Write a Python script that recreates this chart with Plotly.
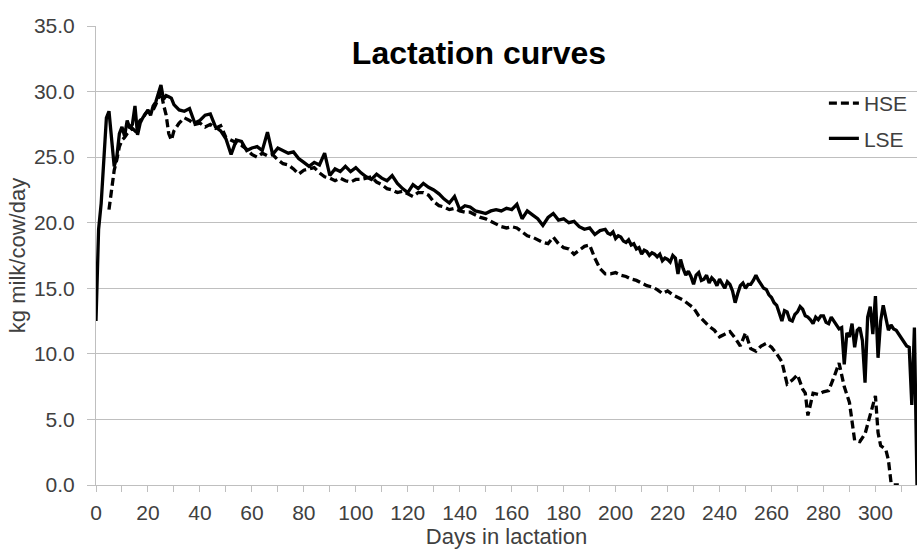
import plotly.graph_objects as go

# ---------------- data ----------------
lse_days = list(range(0, 31)) + list(range(32, 195, 2)) + list(range(196, 317))
lse_vals = [
    # 0 .. 30 daily
    12.5, 19.5, 21.5, 24.5, 28.0, 28.5, 26.5, 24.3, 25.0, 26.8,
    27.3, 26.6, 27.8, 27.2, 27.5, 28.9, 26.7, 27.6, 28.0, 28.3,
    28.6, 28.2, 28.9, 29.2, 29.9, 30.5, 29.4, 29.7, 29.6, 29.5,
    29.0,
    # 32 .. 194 step 2
    28.6, 28.5, 28.7, 27.6, 27.8, 28.2, 28.3, 27.3, 27.0, 26.4,
    25.2, 26.3, 26.2, 25.5, 25.7, 25.8, 25.5, 26.9, 25.2, 25.7,
    25.5, 25.3, 25.4, 24.9, 24.6, 24.3, 24.6, 24.4, 25.3, 23.6,
    24.1, 23.9, 24.3, 23.9, 24.2, 23.8, 23.5, 23.3, 23.7, 23.4,
    23.2, 23.6, 23.0, 22.6, 22.3, 22.9, 22.6, 23.0, 22.7, 22.5,
    22.2, 21.8, 21.5, 22.0, 21.0, 21.3, 21.2, 20.9, 20.8, 20.7,
    20.9, 21.0, 20.9, 21.1, 21.0, 21.4, 20.3, 20.9, 20.6, 20.3,
    19.8, 20.4, 20.7, 20.2, 20.3, 20.0, 20.1, 19.7, 19.5, 19.6,
    19.1, 19.4,
    # 196 .. 316 daily
    19.5, 19.2, 19.1, 19.3, 18.8, 19.0, 18.9, 18.6, 18.5, 18.7,
    18.3, 18.4, 18.0, 18.1, 17.6, 17.9, 17.8, 17.5, 17.7, 17.6,
    17.4, 17.6, 17.1, 17.3, 17.2, 17.0, 17.5, 17.3, 16.1, 17.2,
    16.5, 16.0, 16.3, 15.9, 15.3, 16.0, 16.2, 15.6, 15.7, 16.0,
    15.4, 15.8, 15.6, 15.2, 15.7, 15.4, 15.0, 15.5, 15.3, 14.8,
    13.9, 14.6, 15.2, 15.4, 15.0, 15.3, 15.3, 15.6, 16.0, 15.6,
    15.3, 15.0, 14.9, 14.5, 14.3, 13.9, 13.7, 13.0, 12.5, 13.3,
    13.2, 12.6, 12.5, 13.0, 13.2, 13.6, 13.4, 12.9, 12.8, 12.6,
    12.3, 12.8, 12.6, 12.9, 12.9, 12.4, 12.3, 12.8, 12.5,
    12.2, 11.9, 12.0, 9.2, 11.6, 11.3, 12.3, 10.5, 11.8, 12.0,
    11.0, 7.8, 12.8, 13.6, 11.5, 14.4, 9.7, 12.5, 13.7, 12.6,
    11.8, 12.2, 11.9, 11.8, 11.5, 11.3, 10.9, 10.6, 10.5, 6.1,
    12.0, 0.0,
]

hse_days = (list(range(5, 31)) + list(range(32, 273, 2)) +
            [273, 274, 276, 278, 280, 282, 284, 286, 288, 290, 292, 294, 296,
             298, 300, 301, 302, 304, 305, 306, 307, 309])
hse_vals = [
    # 5 .. 30 daily
    21.0, 22.5, 24.0, 24.8, 25.8, 26.3, 26.5, 26.8, 27.0, 27.2,
    27.0, 27.5, 27.8, 28.0, 28.3, 28.5, 28.6, 28.6, 29.0, 29.5,
    30.0, 29.0, 28.2, 26.8, 26.3, 27.0,
    # 32 .. 272 step 2
    27.6, 28.0, 27.8, 27.5, 27.6, 27.3, 27.5, 27.2, 27.4, 26.5,
    26.3, 26.1, 25.9, 25.6, 25.2, 25.0, 25.3, 25.1, 25.2, 24.8,
    24.5, 24.4, 24.1, 23.7, 24.0, 24.1, 24.2, 23.8, 23.5, 23.4,
    23.2, 23.4, 23.2, 23.1, 23.3, 23.3, 23.4, 23.5, 23.1, 22.9,
    22.6, 22.5, 22.3, 22.4, 22.2, 22.0, 22.3, 22.3, 22.1, 21.6,
    21.3, 21.2, 21.0, 21.1, 20.9, 20.8, 20.8, 20.6, 20.4, 20.3,
    20.1, 19.9, 19.7, 19.6, 19.7, 19.6, 19.3, 19.0, 18.9, 18.7,
    18.5, 18.4, 18.9, 18.4, 18.1, 18.0, 17.6, 17.9, 18.2, 18.3,
    17.3, 16.5, 16.1, 16.1, 16.2, 16.0, 15.9, 15.7, 15.6, 15.4,
    15.2, 15.1, 14.9, 14.6, 14.8, 14.5, 14.3, 14.1, 13.8, 13.5,
    12.9, 12.5, 12.1, 11.8, 11.3, 11.5, 11.7, 11.2, 10.6, 11.6,
    10.4, 10.2, 10.6, 10.8, 10.5, 10.0, 9.4, 7.7, 8.0, 8.4,
    7.3,
    # tail
    7.0, 5.3, 7.0, 6.9, 7.1, 7.2, 8.2, 9.3, 7.5, 6.3, 3.4, 3.3, 3.9,
    5.4, 6.8, 4.0, 3.0, 2.7, 1.9, 0.2, 0.0, 0.0,
]

assert len(lse_days) == len(lse_vals), (len(lse_days), len(lse_vals))
assert len(hse_days) == len(hse_vals), (len(hse_days), len(hse_vals))

y_ticks = [0, 5, 10, 15, 20, 25, 30, 35]

FONT = "Liberation Sans, Arial, sans-serif"
GRID = "#bfbfbf"
TXT = "#404040"

fig = go.Figure()
fig.add_trace(go.Scatter(
    x=hse_days, y=hse_vals, name="HSE", mode="lines", legendgroup="a",
    line=dict(color="black", width=3.3, dash="8px,4px"),
))
fig.add_trace(go.Scatter(
    x=lse_days, y=lse_vals, name="LSE", mode="lines", legendgroup="b",
    line=dict(color="black", width=3.3),
))

fig.update_layout(
    width=923, height=556,
    margin=dict(l=96, r=6, t=26, b=71),
    paper_bgcolor="white", plot_bgcolor="white",
    font=dict(family=FONT, size=21, color=TXT),
    title=dict(text="<b>Lactation curves</b>", font=dict(size=32, color="black", family=FONT),
               xref="container", yref="container", x=479/923, y=1-53/556,
               xanchor="center", yanchor="middle"),
    legend=dict(x=0.995, y=0.876, xanchor="right", yanchor="top",
                bgcolor="rgba(0,0,0,0)", font=dict(size=21, color=TXT),
                traceorder="grouped", tracegroupgap=5),
    showlegend=True,
)
fig.update_xaxes(
    range=[0, 316], tick0=0, dtick=20, showgrid=False, zeroline=False,
    showline=True, linecolor=GRID, linewidth=1,
    ticks="outside", ticklen=6, tickcolor=GRID, tickwidth=1,
    minor=dict(dtick=10, ticks="outside", ticklen=6, tickcolor=GRID, showgrid=False),
    title=dict(text="Days in lactation", font=dict(size=22, color=TXT), standoff=4),
    ticklabelstandoff=3,
)
fig.update_yaxes(
    range=[0, 35], tickvals=y_ticks, tickformat=".1f",
    showgrid=True, gridcolor=GRID, gridwidth=1, zeroline=False,
    showline=True, linecolor=GRID, linewidth=1,
    ticks="outside", ticklen=8, tickcolor=GRID, tickwidth=1,
    title=dict(text="kg milk/cow/day", font=dict(size=22, color=TXT), standoff=2),
    ticklabelstandoff=8,
)

fig.write_html("out.html")
